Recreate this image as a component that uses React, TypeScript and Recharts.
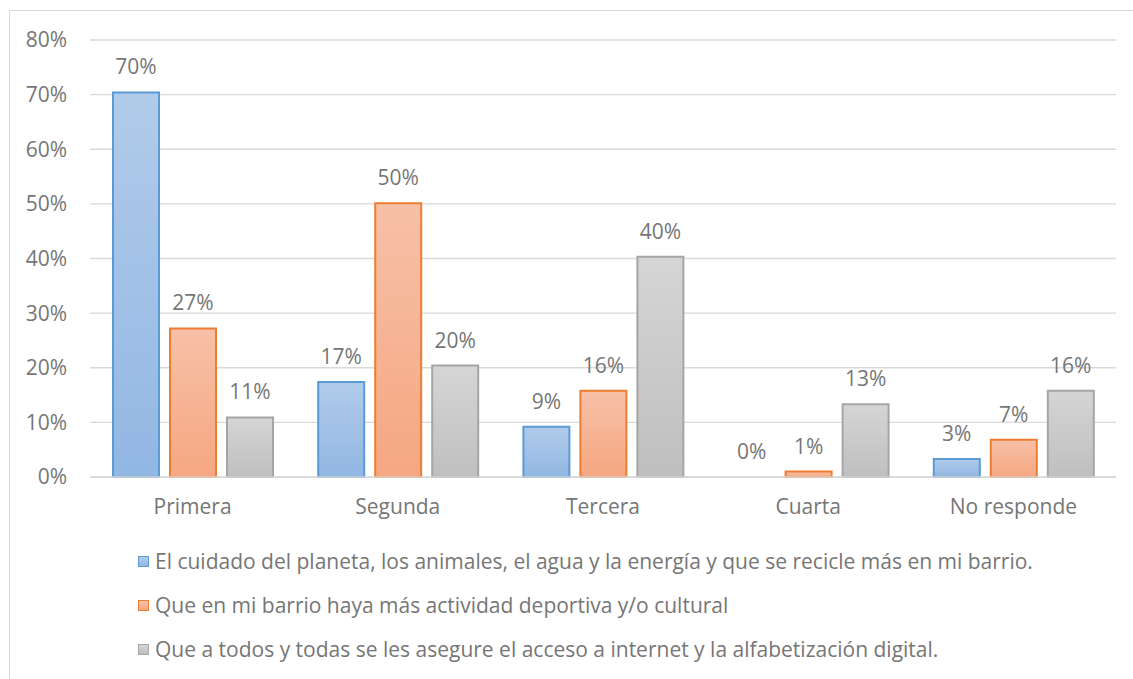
import React from 'react';
import { BarChart, Bar, XAxis, YAxis, CartesianGrid, Legend, LabelList, Cell } from 'recharts';

const categories = ['Primera', 'Segunda', 'Tercera', 'Cuarta', 'No responde'];
const planeta = [70.4, 17.4, 9.2, 0, 3.3];
const deportiva = [27.2, 50.1, 15.8, 1.0, 6.8];
const internet = [10.9, 20.4, 40.3, 13.3, 15.8];
const yTicks = [0, 10, 20, 30, 40, 50, 60, 70, 80];

const seriesNames = [
  'El cuidado del planeta, los animales, el agua y la energía y que se recicle más en mi barrio.',
  'Que en mi barrio haya más actividad deportiva y/o cultural',
  'Que a todos y todas se les asegure el acceso a internet y la alfabetización digital.',
];

const series = [
  { key: 'planeta', values: planeta, stroke: '#5b9bd5', top: '#b1cbea', bottom: '#92b7e3' },
  { key: 'deportiva', values: deportiva, stroke: '#ed7d31', top: '#f7c0a7', bottom: '#f5a781' },
  { key: 'internet', values: internet, stroke: '#a5a5a5', top: '#d5d5d5', bottom: '#bfbfbf' },
];

const data = categories.map((name, i) => ({
  name,
  planeta: planeta[i],
  deportiva: deportiva[i],
  internet: internet[i],
}));

const FONT = '"Open Sans", sans-serif';
const TEXT = '#767676';
const FS = 21;

const renderLegend = () => (
  <div style={{ paddingLeft: 128, paddingTop: 10, fontFamily: FONT, fontSize: FS, color: TEXT }}>
    {series.map((s, i) => (
      <div key={s.key} style={{ display: 'flex', alignItems: 'center', height: 44 }}>
        <span
          style={{
            display: 'inline-block',
            width: 9,
            height: 9,
            border: `1.5px solid ${s.stroke}`,
            background: `linear-gradient(${s.top}, ${s.bottom})`,
            marginRight: 6,
          }}
        />
        <span>{seriesNames[i]}</span>
      </div>
    ))}
  </div>
);

export default function App() {
  return (
    <div
      style={{
        position: 'absolute',
        left: 9,
        top: 10,
        width: 1124,
        height: 669,
        borderLeft: '1px solid #d9d9d9',
        borderTop: '1px solid #d9d9d9',
        background: '#fff',
      }}
    >
      <BarChart
        width={1123}
        height={668}
        data={data}
        margin={{ top: 29, right: 17, left: 0, bottom: 0 }}
        barCategoryGap={23}
        barGap={11}
      >
        <defs>
          {series.map((s) => (
            <linearGradient key={s.key} id={`grad-${s.key}`} x1="0" y1="0" x2="0" y2="1">
              <stop offset="0%" stopColor={s.top} />
              <stop offset="100%" stopColor={s.bottom} />
            </linearGradient>
          ))}
        </defs>
        <CartesianGrid vertical={false} stroke="#d9d9d9" strokeWidth={1.3} />
        <XAxis
          dataKey="name"
          height={52}
          axisLine={{ stroke: '#d9d9d9', strokeWidth: 1.6 }}
          tickLine={false}
          tickMargin={16}
          tick={{ fill: TEXT, fontSize: FS, fontFamily: FONT }}
        />
        <YAxis
          width={80}
          domain={[0, 80]}
          ticks={yTicks}
          axisLine={false}
          tickLine={false}
          tickMargin={17}
          tickFormatter={(v: number) => `${v}%`}
          tick={{ fill: TEXT, fontSize: FS, fontFamily: FONT }}
        />
        <Legend
          verticalAlign="bottom"
          content={renderLegend}
          wrapperStyle={{ left: 0, width: 1123, height: 150 }}
        />
        {series.map((s, i) => (
          <Bar
            key={s.key}
            dataKey={s.key}
            name={seriesNames[i]}
            fill={`url(#grad-${s.key})`}
            stroke={s.stroke}
            strokeWidth={2}
            minPointSize={0.01}
            isAnimationActive={false}
          >
            {s.values.map((v, j) => (
              <Cell key={j} stroke={v === 0 ? 'none' : s.stroke} fill={v === 0 ? 'none' : `url(#grad-${s.key})`} />
            ))}
            <LabelList
              dataKey={s.key}
              position="top"
              offset={18}
              formatter={(v: number) => `${Math.round(v)}%`}
              style={{ fill: TEXT, fontSize: FS, fontFamily: FONT }}
            />
          </Bar>
        ))}
      </BarChart>
    </div>
  );
}
